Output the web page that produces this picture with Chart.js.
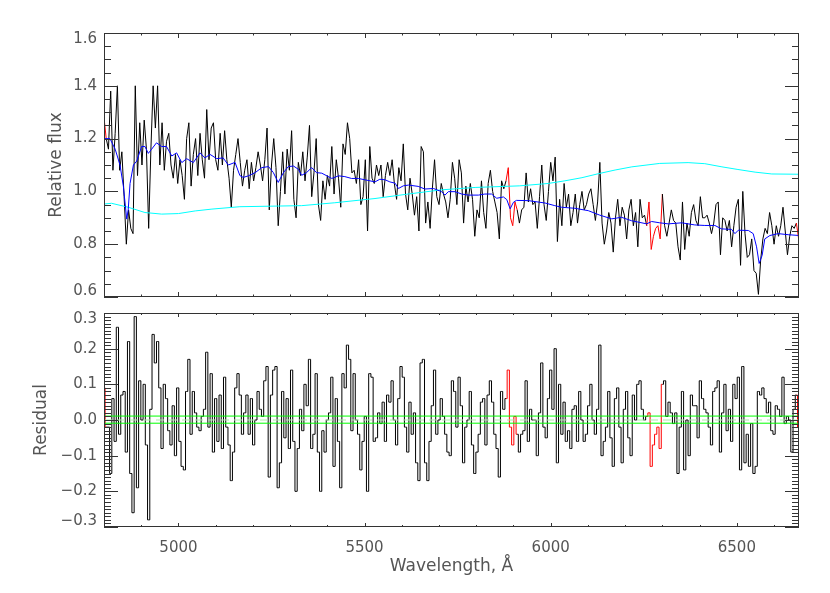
<!DOCTYPE html>
<html lang="en">
<head>
<meta charset="UTF-8">
<title>Spectrum fit and residuals</title>
<script src="https://cdn.jsdelivr.net/npm/chart.js"></script>
<style>
  html, body { margin: 0; padding: 0; background: #fff; }
  #wrap { position: relative; width: 830px; height: 593px; }
  #fluxChart { position: absolute; left: 0; top: 0; }
  #residChart { position: absolute; left: 0; top: 305px; }
</style>
</head>
<body>
<div id="wrap">
  <canvas id="fluxChart" width="830" height="305"></canvas>
  <canvas id="residChart" width="830" height="288"></canvas>
</div>
<script>
// spectrum sampling (Angstrom)
const waveStart = 4800;
const waveStep = 6;

// observed relative flux, one value per pixel
const flux = [
  1.28, 1.20, 1.16, 1.38, 1.08, 1.22, 1.40, 1.08, 1.15, 0.98,
  0.80, 0.93, 0.86, 0.84, 1.40, 1.06, 1.26, 1.10, 1.27, 1.16,
  0.86, 1.16, 1.40, 1.24, 1.40, 1.10, 1.26, 1.08, 1.19, 1.22,
  1.10, 1.05, 1.14, 1.03, 1.12, 1.06, 0.97, 1.20, 1.26, 1.02,
  1.14, 1.20, 1.06, 1.22, 1.12, 1.05, 1.31, 1.12, 1.24, 1.26,
  1.12, 1.08, 1.22, 1.10, 1.23, 1.12, 1.05, 0.94, 1.08, 1.14,
  1.20, 1.11, 1.02, 1.08, 1.12, 1.01, 1.11, 1.04, 1.09, 1.15,
  1.10, 1.04, 1.12, 1.24, 0.93, 1.10, 1.20, 1.09, 0.87, 1.00,
  1.15, 0.99, 1.16, 1.08, 1.23, 0.97, 0.90, 1.11, 1.06, 1.15,
  1.04, 1.13, 1.25, 0.98, 1.07, 1.20, 0.95, 0.89, 1.04, 0.97,
  1.06, 1.02, 1.17, 0.99, 1.12, 1.05, 0.94, 1.18, 1.14, 1.26,
  1.20, 1.07, 1.08, 1.03, 1.12, 0.95, 0.98, 1.12, 0.85, 1.17,
  1.05, 1.03, 1.10, 1.06, 1.10, 0.98, 1.06, 1.11, 1.06, 1.12,
  1.03, 0.97, 1.09, 1.04, 1.18, 0.99, 0.93, 1.05, 0.99, 0.91,
  0.98, 0.85, 1.17, 1.15, 0.88, 0.96, 0.86, 1.01, 1.12, 0.98,
  0.95, 1.03, 0.99, 0.96, 0.90, 0.97, 1.11, 1.05, 0.95, 1.12,
  1.07, 0.88, 1.02, 0.96, 1.03, 0.97, 0.83, 0.93, 0.90, 1.04,
  0.92, 0.86, 1.03, 1.08, 1.00, 0.96, 0.92, 0.82, 1.04, 1.01,
  1.04, 1.09, 0.90, 0.87, 0.96, 0.93, 0.88, 0.93, 0.94, 1.07,
  0.96, 1.01, 0.95, 0.96, 0.86, 0.98, 1.10, 0.95, 0.89, 1.00,
  1.11, 1.04, 1.13, 0.81, 0.97, 0.87, 1.03, 0.94, 0.99, 0.87,
  0.92, 0.99, 0.88, 0.95, 1.00, 0.93, 0.95, 0.99, 1.01, 0.95,
  0.89, 0.96, 1.11, 0.88, 0.80, 0.85, 0.92, 0.88, 0.77, 0.90,
  0.97, 0.87, 0.94, 0.91, 0.82, 0.93, 0.97, 0.87, 0.92, 0.79,
  0.97, 0.90, 0.91, 0.87, 0.96, 0.78, 0.83, 0.86, 0.87, 0.82,
  0.99, 0.87, 0.83, 0.88, 0.93, 0.89, 0.88, 0.79, 0.74, 0.96,
  0.78, 0.88, 0.83, 0.92, 0.95, 0.89, 0.87, 0.98, 0.90, 0.90,
  0.91, 0.88, 0.84, 0.88, 0.95, 0.96, 0.76, 0.90, 0.89, 0.85,
  0.89, 0.79, 0.87, 0.94, 0.97, 0.72, 1.00, 0.84, 0.75, 0.76,
  0.82, 0.70, 0.69, 0.61, 0.74, 0.82, 0.86, 0.84, 0.92, 0.87,
  0.80, 0.87, 0.83, 0.87, 0.94, 0.85, 0.76, 0.83, 0.87, 0.86,
  0.88, 0.82
];

// fit residuals, same pixels
const residual = [
  0.09, -0.02, -0.02, -0.15, 0.06, -0.06, 0.26, -0.04, 0.07, 0.08,
  -0.09, 0.22, -0.15, -0.26, 0.29, -0.19, 0.11, 0.00, 0.10, -0.07,
  -0.28, 0.03, 0.24, 0.16, 0.22, 0.09, -0.08, 0.10, 0.06, -0.03,
  -0.07, 0.04, -0.10, 0.09, -0.06, -0.13, -0.14, 0.08, 0.17, -0.04,
  0.08, 0.02, -0.02, -0.03, 0.01, 0.03, 0.19, -0.02, 0.13, -0.09,
  0.06, -0.06, 0.07, -0.08, 0.12, -0.02, -0.07, -0.17, -0.09, 0.09,
  0.13, 0.07, -0.04, 0.02, 0.07, -0.04, 0.06, -0.07, 0.00, 0.08,
  0.03, 0.01, 0.11, 0.15, -0.16, 0.07, 0.14, 0.15, -0.19, -0.12,
  0.08, -0.05, 0.06, -0.08, 0.14, -0.06, -0.20, -0.08, 0.03, -0.03,
  0.10, 0.04, 0.17, -0.08, -0.04, 0.13, -0.09, -0.20, -0.03, -0.09,
  0.00, 0.02, 0.12, -0.13, 0.06, -0.06, -0.19, 0.13, 0.09, 0.21,
  0.17, -0.03, 0.13, 0.00, -0.04, -0.14, -0.06, 0.01, -0.20, 0.13,
  0.12, -0.06, -0.05, 0.02, -0.01, 0.05, -0.06, 0.07, 0.05, 0.11,
  0.00, -0.07, 0.06, 0.15, 0.12, -0.02, -0.09, 0.05, -0.04, 0.02,
  -0.12, -0.17, 0.16, 0.17, -0.12, -0.17, -0.06, 0.04, 0.14, -0.04,
  0.00, 0.06, 0.01, -0.04, -0.09, -0.10, 0.11, 0.08, -0.02, 0.12,
  0.04, -0.12, -0.02, 0.00, 0.08, -0.07, -0.15, -0.09, -0.04, 0.05,
  0.06, -0.07, 0.07, 0.11, 0.05, -0.04, -0.08, -0.16, 0.08, 0.03,
  0.06, 0.14, -0.02, -0.07, 0.01, -0.04, -0.09, -0.04, -0.03, 0.11,
  -0.06, 0.03, 0.00, 0.00, -0.10, 0.02, 0.16, -0.02, -0.05, 0.06,
  0.14, 0.03, 0.20, -0.12, 0.10, -0.04, 0.05, -0.06, -0.03, -0.08,
  0.03, 0.04, -0.06, 0.08, 0.00, -0.06, -0.04, 0.04, 0.10, 0.00,
  -0.04, 0.03, 0.21, -0.10, -0.06, -0.02, 0.08, -0.05, -0.13, 0.06,
  0.09, -0.02, -0.12, 0.03, 0.08, -0.05, -0.10, 0.07, 0.00, 0.10,
  0.11, 0.03, 0.00, 0.01, 0.02, -0.13, -0.07, -0.04, -0.02, -0.08,
  0.10, 0.11, 0.01, 0.05, 0.02, -0.01, 0.02, -0.15, -0.02, 0.08,
  -0.14, 0.00, -0.10, 0.07, 0.04, 0.04, -0.05, 0.11, 0.06, 0.03,
  0.02, -0.02, -0.07, 0.08, 0.09, 0.11, -0.09, 0.02, 0.10, -0.03,
  0.03, -0.06, 0.10, 0.06, 0.12, -0.14, 0.15, -0.12, -0.04, -0.13,
  -0.01, -0.15, -0.13, 0.08, 0.07, 0.09, 0.06, 0.02, 0.05, -0.03,
  -0.04, 0.04, 0.03, 0.01, 0.12, -0.01, 0.01, 0.00, -0.09, 0.03,
  0.07, -0.02
];

// best-fit model (blue)
const modelWave = [4800, 4816, 4830, 4843, 4852, 4861, 4865, 4870, 4879, 4888,
  4901, 4910, 4919, 4928, 4941, 4955, 4968, 4982, 4995, 5009,
  5022, 5040, 5058, 5071, 5085, 5103, 5120, 5134, 5152, 5165,
  5174, 5188, 5206, 5224, 5242, 5255, 5268, 5282, 5295, 5309,
  5322, 5331, 5344, 5358, 5371, 5385, 5412, 5430, 5447, 5465,
  5483, 5501, 5528, 5541, 5555, 5568, 5582, 5591, 5604, 5618,
  5644, 5662, 5685, 5707, 5716, 5725, 5743, 5761, 5779, 5806,
  5823, 5841, 5855, 5873, 5882, 5891, 5900, 5908, 5940, 5985,
  6011, 6029, 6065, 6101, 6132, 6164, 6190, 6217, 6258, 6271,
  6293, 6316, 6352, 6387, 6414, 6441, 6459, 6486, 6495, 6504,
  6531, 6544, 6553, 6560, 6568, 6575, 6589, 6611, 6638, 6667];
const modelFlux = [1.20, 1.20, 1.16, 1.10, 1.02, 0.895, 0.93, 1.03, 1.10, 1.115,
  1.17, 1.17, 1.144, 1.16, 1.184, 1.17, 1.17, 1.134, 1.146, 1.109,
  1.124, 1.109, 1.146, 1.127, 1.14, 1.124, 1.127, 1.10, 1.11, 1.06,
  1.053, 1.059, 1.071, 1.09, 1.094, 1.071, 1.034, 1.071, 1.094, 1.096,
  1.084, 1.061, 1.071, 1.09, 1.071, 1.069, 1.049, 1.059, 1.056, 1.049,
  1.049, 1.044, 1.036, 1.046, 1.044, 1.036, 1.031, 1.011, 1.021, 1.024,
  1.019, 1.009, 1.011, 0.999, 0.986, 0.999, 0.999, 0.99, 0.986, 0.986,
  0.99, 0.99, 0.974, 0.979, 0.969, 0.934, 0.959, 0.966, 0.965, 0.956,
  0.946, 0.94, 0.936, 0.927, 0.91, 0.896, 0.902, 0.889, 0.877, 0.886,
  0.881, 0.877, 0.881, 0.873, 0.871, 0.871, 0.858, 0.856, 0.84, 0.853,
  0.852, 0.84, 0.79, 0.727, 0.758, 0.82, 0.833, 0.84, 0.836, 0.833];

// continuum (cyan)
const contWave = [4800, 4820, 4865, 4910, 4955, 5000, 5045, 5090, 5165, 5331,
  5420, 5528, 5617, 5707, 5797, 5917, 5993, 6038, 6084, 6128,
  6173, 6218, 6293, 6369, 6414, 6460, 6503, 6549, 6594, 6667];
const contFlux = [0.952, 0.955, 0.94, 0.92, 0.914, 0.916, 0.926, 0.933, 0.942, 0.946,
  0.957, 0.973, 0.99, 1.006, 1.015, 1.021, 1.03, 1.04, 1.052, 1.067,
  1.081, 1.093, 1.106, 1.109, 1.105, 1.093, 1.083, 1.073, 1.066, 1.065];

// pixels excluded from the fit (drawn red)
const maskRanges = [[4798, 4807], [5877, 5913], [6255, 6303], [6659, 6668]];

// green reference lines in the residual panel
const residLines = [0.011, -0.009];

const waveRange = [4800, 6667];
const fluxRange = [0.6, 1.6];
const residRange = [-0.3, 0.3];
const waveLabels = [5000, 5500, 6000, 6500];
const fluxLabels = [0.6, 0.8, 1.0, 1.2, 1.4, 1.6];
const residLabels = [-0.3, -0.2, -0.1, 0.0, 0.1, 0.2, 0.3];

const pixWave = flux.map((f, i) => waveStart + i * waveStep);
const inMask = w => maskRanges.some(([a, b]) => w >= a && w <= b);
const maskSegment = { borderColor: c => (inMask(c.p0.parsed.x) && inMask(c.p1.parsed.x)) ? '#ff0000' : undefined };

const axisFont = { family: 'DejaVu Sans', size: 15, lineHeight: 0.8 };
const titleFont = { family: 'DejaVu Sans', size: 17 };
const textColor = '#555';

// keep the end labels inside the box, like IDL does
function yLabel(range, fmt) {
  return v => {
    const s = fmt(v);
    if (Math.abs(v - range[1]) < 1e-9) return ['', s];
    if (Math.abs(v - range[0]) < 1e-9) return [s, ''];
    return s;
  };
}
const fmt1 = v => (v < -1e-9 ? '\u2212' : '') + Math.abs(v).toFixed(1);

// fixed left margin, and no extra room reserved for the end labels
function fixYAxis(s) {
  s.width = 104;
  s.paddingTop = 0;
  s.paddingBottom = 0;
}

function tickRun(min, max, step) {
  const out = [];
  for (let k = Math.ceil(min / step - 1e-9); k * step <= max + 1e-9; k++) out.push(k * step);
  return out;
}

// IDL style box: frame plus inward ticks on all four sides
const frameTicks = {
  id: 'frameTicks',
  afterDatasetsDraw(chart, args, o) {
    const { ctx, chartArea: a, scales: { x, y } } = chart;
    const isMajor = (v, step) => Math.abs(v / step - Math.round(v / step)) < 1e-6;
    ctx.save();
    ctx.strokeStyle = '#333';
    ctx.lineWidth = 1;
    ctx.beginPath();
    tickRun(x.min, x.max, o.xMinor).forEach(v => {
      const px = Math.round(x.getPixelForValue(v)) + 0.5;
      const len = isMajor(v, o.xMajor) ? o.xLen : o.xLen / 2;
      ctx.moveTo(px, a.bottom); ctx.lineTo(px, a.bottom - len);
      ctx.moveTo(px, a.top); ctx.lineTo(px, a.top + len);
    });
    tickRun(y.min, y.max, o.yMinor).forEach(v => {
      const py = Math.round(y.getPixelForValue(v)) + 0.5;
      const len = isMajor(v, o.yMajor) ? o.yLen : o.yLen / 2;
      ctx.moveTo(a.left, py); ctx.lineTo(a.left + len, py);
      ctx.moveTo(a.right, py); ctx.lineTo(a.right - len, py);
    });
    ctx.stroke();
    ctx.strokeRect(Math.round(a.left) + 0.5, Math.round(a.top) + 0.5,
      Math.round(a.right - a.left) - 1, Math.round(a.bottom - a.top) - 1);
    ctx.restore();
  }
};

const baseOptions = {
  responsive: false,
  animation: false,
  devicePixelRatio: 1,
  elements: { point: { radius: 0 }, line: { tension: 0, borderWidth: 1 } },
};

// top panel: spectrum, model, continuum
new Chart(document.getElementById('fluxChart'), {
  type: 'line',
  data: {
    datasets: [
      { label: 'Model', data: modelWave.map((w, i) => ({ x: w, y: modelFlux[i] })), borderColor: '#0000ff', order: 0 },
      { label: 'Continuum', data: contWave.map((w, i) => ({ x: w, y: contFlux[i] })), borderColor: '#00ffff', order: 1 },
      { label: 'Observed', data: pixWave.map((w, i) => ({ x: w, y: flux[i] })), borderColor: '#000000', segment: maskSegment, order: 2 }
    ]
  },
  options: {
    ...baseOptions,
    layout: { padding: { left: 0, right: 31, top: 33, bottom: 8 } },
    plugins: {
      legend: { display: false },
      tooltip: { enabled: false },
      frameTicks: { xMinor: 100, xMajor: 500, xLen: 5, yMinor: 0.05, yMajor: 0.2, yLen: 14 }
    },
    scales: {
      x: {
        type: 'linear', min: waveRange[0], max: waveRange[1],
        grid: { display: false }, border: { display: false },
        ticks: { display: false },
        afterFit: s => { s.height = 0; }
      },
      y: {
        min: fluxRange[0], max: fluxRange[1],
        grid: { display: false, drawTicks: false }, border: { display: false },
        afterBuildTicks: s => { s.ticks = fluxLabels.map(v => ({ value: v })); },
        ticks: { font: axisFont, color: textColor, padding: 7, callback: yLabel(fluxRange, fmt1) },
        afterFit: fixYAxis,
        title: { display: true, text: 'Relative flux', font: titleFont, color: textColor, padding: { top: 46, bottom: 0 } }
      }
    }
  },
  plugins: [frameTicks]
});

// bottom panel: residuals
new Chart(document.getElementById('residChart'), {
  type: 'line',
  data: {
    datasets: [
      ...residLines.map(v => ({ label: 'ref', data: [{ x: waveRange[0], y: v }, { x: waveRange[1], y: v }], borderColor: '#00ff00', order: 0 })),
      { label: 'ref0', data: [{ x: waveRange[0], y: 0 }, { x: waveRange[1], y: 0 }], borderColor: '#a8f0a8', borderDash: [8, 5], order: 1 },
      { label: 'Residual', data: pixWave.map((w, i) => ({ x: w, y: residual[i] })), borderColor: '#000000', stepped: 'middle', segment: maskSegment, order: 2 }
    ]
  },
  options: {
    ...baseOptions,
    layout: { padding: { left: 0, right: 31, top: 8, bottom: 0 } },
    plugins: {
      legend: { display: false },
      tooltip: { enabled: false },
      frameTicks: { xMinor: 100, xMajor: 500, xLen: 4, yMinor: 0.01, yMajor: 0.1, yLen: 14 }
    },
    scales: {
      x: {
        type: 'linear', min: waveRange[0], max: waveRange[1],
        grid: { display: false, drawTicks: false }, border: { display: false },
        afterBuildTicks: s => { s.ticks = waveLabels.map(v => ({ value: v })); },
        ticks: { font: { family: 'DejaVu Sans', size: 15 }, color: textColor, padding: 12, maxRotation: 0, autoSkip: false, callback: v => String(v) },
        afterFit: s => { s.height = 66; },
        title: { display: true, text: 'Wavelength, Å', font: titleFont, color: textColor, padding: { top: 0, bottom: 16 } }
      },
      y: {
        min: residRange[0], max: residRange[1],
        grid: { display: false, drawTicks: false }, border: { display: false },
        afterBuildTicks: s => { s.ticks = residLabels.map(v => ({ value: v })); },
        ticks: { font: axisFont, color: textColor, padding: 7, callback: yLabel(residRange, fmt1) },
        afterFit: fixYAxis,
        title: { display: true, text: 'Residual', font: titleFont, color: textColor, padding: { top: 31, bottom: 0 } }
      }
    }
  },
  plugins: [frameTicks]
});
</script>
</body>
</html>
